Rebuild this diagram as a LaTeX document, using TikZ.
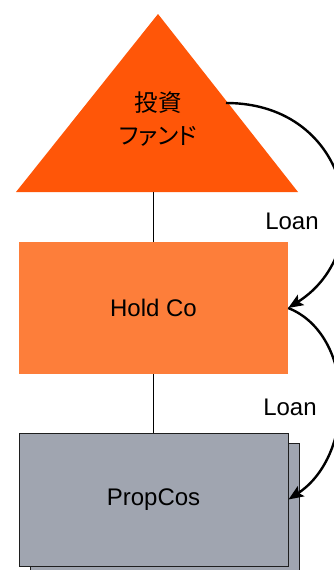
\documentclass[tikz,border=0pt]{standalone}
\usepackage{fontspec}
\setmainfont{Liberation Sans}
\newfontfamily\jpfont[RawFeature=+palt]{Noto Sans CJK JP}
\usetikzlibrary{arrows.meta}
\definecolor{fundc}{RGB}{255,86,8}
\definecolor{holdc}{RGB}{253,126,58}
\definecolor{propc}{RGB}{160,165,176}
\definecolor{edgec}{RGB}{30,30,30}
\tikzset{
  boxtext/.style={font=\fontsize{24}{28}\selectfont, text=black},
  holdbox/.style={boxtext, fill=holdc, minimum width=269pt, minimum height=132pt, inner sep=0pt},
  propbox/.style={boxtext, fill=propc, draw=edgec, line width=1pt, minimum width=269pt, minimum height=133pt, inner sep=0pt},
  tie/.style={draw=black, line width=1.1pt},
  loan/.style={draw=black, line width=2.4pt, -{Stealth[length=15pt,width=12pt,inset=3pt]}},
  loantext/.style={font=\fontsize{24}{28}\selectfont, inner sep=0pt}
}
\begin{document}
\begin{tikzpicture}[x=1pt,y=-1pt]
\useasboundingbox (0,0) rectangle (334,570);
% fund triangle
\path[fill=fundc] (158,14) -- (298,192) -- (16,192) -- cycle;
\node[font=\jpfont\fontsize{23.5}{33}\selectfont, align=center, inner sep=0pt] (fund) at (158,119.5) {投資\\ファンド};
\coordinate (fundbase) at (153.5,192);
\coordinate (fundright) at (226,103);
% hold co
\node[holdbox] (hold) at (153.5,308) {Hold Co};
% propcos (stacked)
\node[propbox] (propback) at (164.5,509.5) {};
\node[propbox] (prop) at (153.5,499.5) {PropCos};
% ties
\draw[tie] (fundbase) -- (hold.north);
\draw[tie] (hold.south) -- (prop.north);
% loans
\draw[loan] (fundright) .. controls (352,103) and (380,250) .. (hold.east);
\draw[loan] (hold.east) .. controls (356,335) and (356,455) .. (prop.east);
\node[loantext] (loan1) at (292,221) {Loan};
\node[loantext] (loan2) at (290,407) {Loan};
\end{tikzpicture}
\end{document}
